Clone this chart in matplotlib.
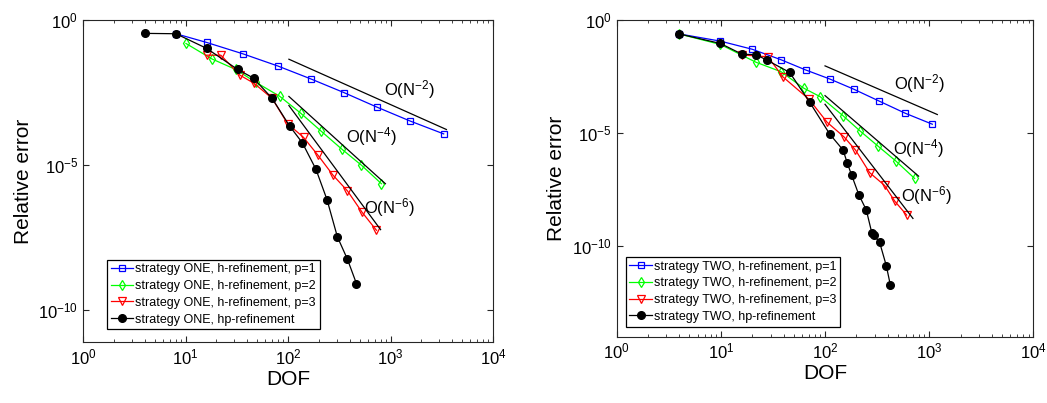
import numpy as np
import matplotlib.pyplot as plt
from matplotlib.ticker import LogLocator, NullLocator, FixedLocator

plt.rcParams['font.family'] = ['Liberation Sans', 'DejaVu Sans']
plt.rcParams['mathtext.default'] = 'regular'

# strategy ONE
one_p1_N = [8.06, 16.1, 36.3, 79, 166, 350, 739, 1563, 3300]
one_p1_E = [0.34, 0.17, 0.069, 0.0265, 9.5e-3, 3.2e-3, 1.0e-3, 3.3e-4, 1.2e-4]
one_p2_N = [10.1, 18.1, 30.8, 48.2, 82.6, 133, 210, 334, 520, 815]
one_p2_E = [0.157, 0.046, 0.02, 7.3e-3, 2.4e-3, 6.2e-4, 1.5e-4, 3.6e-5, 1.0e-5, 2.3e-6]
one_p3_N = [16.1, 22.1, 33.9, 46.8, 70, 98.9, 141.6, 196, 275, 380, 527, 729]
one_p3_E = [0.062, 0.062, 0.0127, 6.6e-3, 2.0e-3, 2.7e-4, 9.1e-5, 2.2e-5, 4.5e-6,
            1.3e-6, 2.4e-7, 5.7e-8]
one_hp_N = [4.02, 8.06, 16.1, 32.2, 46.1, 70, 104, 138, 187, 240, 303, 380, 465]
one_hp_E = [0.35, 0.34, 0.106, 0.02, 0.01, 2.0e-3, 2.2e-4, 5.9e-5, 7.3e-6, 6.5e-7,
            3.4e-8, 5.7e-9, 8.3e-10]

# strategy TWO
two_p1_N = [3.94, 9.9, 19.9, 37.5, 65, 111, 188, 327, 590, 1071]
two_p1_E = [0.248, 0.118, 0.052, 0.018, 6.3e-3, 2.5e-3, 8.9e-4, 2.7e-4, 7.6e-5, 2.5e-5]
two_p2_N = [3.94, 9.9, 21.7, 38, 62.3, 90, 149, 215, 322, 476, 724]
two_p2_E = [0.248, 0.084, 0.0138, 5.2e-3, 9.9e-4, 4.1e-4, 5.9e-5, 1.3e-5, 2.7e-6,
            6.0e-7, 1.0e-7]
two_p3_N = [16, 28.3, 39.4, 70, 105, 152, 196, 268, 373, 466, 607]
two_p3_E = [0.029, 0.024, 3.1e-3, 3.2e-4, 3.0e-5, 6.9e-6, 1.8e-6, 1.8e-7, 4.9e-8,
            1.0e-8, 2.4e-9]
two_hp_N = [3.94, 9.9, 16, 21.7, 27.7, 45.7, 71, 111, 149, 164, 180, 211, 249, 282,
            295, 334, 387, 423]
two_hp_E = [0.248, 0.093, 0.031, 0.030, 0.017, 4.9e-3, 2.4e-4, 9.1e-6, 1.8e-6, 4.6e-7,
            1.4e-7, 1.9e-8, 4.0e-9, 3.7e-10, 3.0e-10, 1.5e-10, 1.4e-11, 2.0e-12]

# reference slope lines: (x0, x1, y0, y1) and label positions
one_refs = [([102, 3508], [0.045, 1.7e-4]),
            ([102, 891], [2.34e-3, 2.3e-6]),
            ([102, 800], [1.14e-3, 6.0e-8])]
one_lbls = [(1538, 3.9e-3), (651, 9.5e-5), (985, 3.6e-7)]
two_refs = [([100, 1196], [9.5e-3, 6.7e-5]),
            ([100, 791], [4.6e-4, 1.26e-7]),
            ([100, 698], [1.9e-4, 1.7e-9])]
two_lbls = [(809, 1.6e-3), (795, 2.1e-6), (937, 1.8e-8)]
orders = ['O(N$^{-2}$)', 'O(N$^{-4}$)', 'O(N$^{-6}$)']

fig = plt.figure(figsize=(10.47, 4.03), dpi=100)
ax1 = fig.add_axes([0.0793, 0.151, 0.3916, 0.799])
ax2 = fig.add_axes([0.589, 0.1645, 0.398, 0.7855])


def draw(ax, name, p1, p2, p3, hp, refs, lbls, ylow, leg_anchor):
    ax.loglog(*p1, '-s', color='#0000ff', mfc='none', ms=4.5, lw=0.9, mew=0.9,
              label='strategy %s, h-refinement, p=1' % name)
    ax.loglog(*p2, '-d', color='#00ff00', mfc='none', ms=5.5, lw=0.9, mew=0.9,
              label='strategy %s, h-refinement, p=2' % name)
    ax.loglog(*p3, '-v', color='#ff0000', mfc='none', ms=5.5, lw=0.9, mew=0.9,
              label='strategy %s, h-refinement, p=3' % name)
    ax.loglog(*hp, '-o', color='black', ms=5.5, lw=0.9,
              label='strategy %s, hp-refinement' % name)
    for (xs, ys), (tx, ty), t in zip(refs, lbls, orders):
        ax.loglog(xs, ys, '-', color='black', lw=0.9)
        ax.text(tx, ty, t, fontsize=12, ha='center', va='center')
    ax.set_xlim(1, 1e4)
    ax.set_ylim(ylow, 1)
    ax.xaxis.set_major_locator(FixedLocator([1, 10, 100, 1000, 10000]))
    ax.xaxis.set_minor_locator(LogLocator(base=10, subs=np.arange(2, 10)))
    ax.yaxis.set_major_locator(FixedLocator([1e-10, 1e-5, 1]))
    ax.yaxis.set_minor_locator(NullLocator())
    ax.tick_params(which='both', direction='in', top=True, right=True,
                   labelsize=12, color='#262626')
    ax.tick_params(which='major', length=4)
    ax.tick_params(which='minor', length=2.5)
    for s in ax.spines.values():
        s.set_color('#262626')
        s.set_linewidth(0.8)
    ax.set_xlabel('DOF', fontsize=15, labelpad=2)
    ax.set_ylabel('Relative error', fontsize=15, labelpad=4)
    leg = ax.legend(loc='lower left', bbox_to_anchor=leg_anchor, borderaxespad=0,
                    fontsize=9, fancybox=False, framealpha=1, edgecolor='black',
                    handlelength=1.8, handletextpad=0.15, labelspacing=0.38,
                    borderpad=0.3)
    leg.get_frame().set_linewidth(0.9)


draw(ax1, 'ONE', (one_p1_N, one_p1_E), (one_p2_N, one_p2_E), (one_p3_N, one_p3_E),
     (one_hp_N, one_hp_E), one_refs, one_lbls, 10 ** -11.1, (0.059, 0.04))
draw(ax2, 'TWO', (two_p1_N, two_p1_E), (two_p2_N, two_p2_E), (two_p3_N, two_p3_E),
     (two_hp_N, two_hp_E), two_refs, two_lbls, 1e-14, (0.0216, 0.032))

fig.savefig('out.png', dpi=100)
